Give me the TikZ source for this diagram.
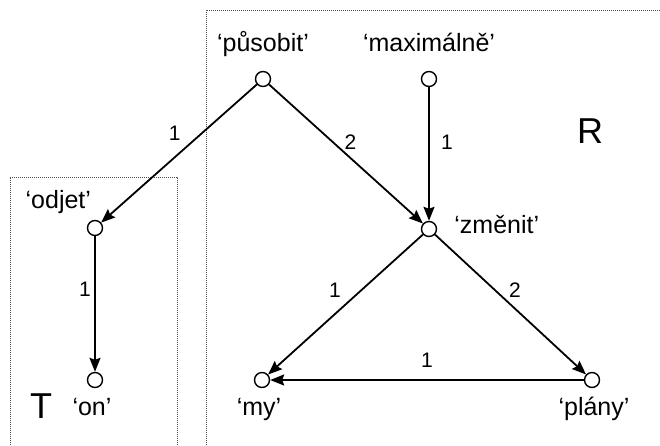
\documentclass[tikz,border=0pt]{standalone}
\usepackage{fontspec}
\setmainfont{Liberation Sans}
\usetikzlibrary{arrows.meta,positioning}
\begin{document}
\begin{tikzpicture}[x=1pt, y=-1pt, font=\fontsize{25}{29}\selectfont]
    \tikzset{v/.style={draw, circle, line width=1.4pt, minimum size=15pt, inner sep=0pt, fill=white},
      w/.style={text height=18pt, text depth=5pt, inner sep=0pt},
      e/.style={line width=1.8pt, -{Stealth[length=14pt, width=11pt, inset=2pt]}},
      n/.style={font=\fontsize{21}{24}\selectfont, inner sep=1pt},
      box/.style={line width=0.8pt, dash pattern=on 1pt off 1pt, black!70}}
    \useasboundingbox (0,0) rectangle (660,445);
    % regions
    \draw[box] (206,445) -- (206,10) -- (660,10);
    \draw[box] (10,445) -- (10,177) -- (177,177) -- (177,445);
    \node (R) at (590,131) {\fontsize{36}{40}\selectfont R};
    \node (T) at (41,406) {\fontsize{36}{40}\selectfont T};
    % nodes
    \node[v, label={[w, label distance=14pt]above:‘působit’}] (pusobit) at (263,79) {};
    \node[v, label={[w, label distance=17pt, yshift=2pt]right:‘změnit’}] (zmenit) at (429,229) {};
    \node[v, label={[w, label distance=14pt]above:‘maximálně’}] (maximalne) at (429,79) {};
    \node[v, label={[w, anchor=base east, xshift=2pt, yshift=14pt]above left:‘odjet’}] (odjet) at (95,228) {};
    \node[v, label={[w, xshift=-3pt, label distance=9pt]below:‘on’}] (on) at (95,380) {};
    \node[v, label={[w, xshift=-3pt, label distance=9pt]below:‘my’}] (my) at (262,380) {};
    \node[v, label={[w, xshift=2pt, label distance=9pt]below:‘plány’}] (plany) at (592,380) {};
    % edges
    \draw[e] (pusobit) -- node[n, pos=0.45, xshift=-12pt, yshift=13pt] {1} (odjet);
    \draw[e] (pusobit) -- node[n, pos=0.47, xshift=9pt, yshift=8pt] {2} (zmenit);
    \draw[e] (maximalne) -- node[n, pos=0.41, xshift=18pt] {1} (zmenit);
    \draw[e] (odjet) -- node[n, pos=0.39, xshift=-10pt] {1} (on);
    \draw[e] (zmenit) -- node[n, pos=0.49, xshift=-12pt, yshift=13pt] {1} (my);
    \draw[e] (zmenit) -- node[n, pos=0.47, xshift=9pt, yshift=10pt] {2} (plany);
    \draw[e] (plany) -- node[n, pos=0.5, yshift=20pt] {1} (my);
  \end{tikzpicture}
\end{document}
